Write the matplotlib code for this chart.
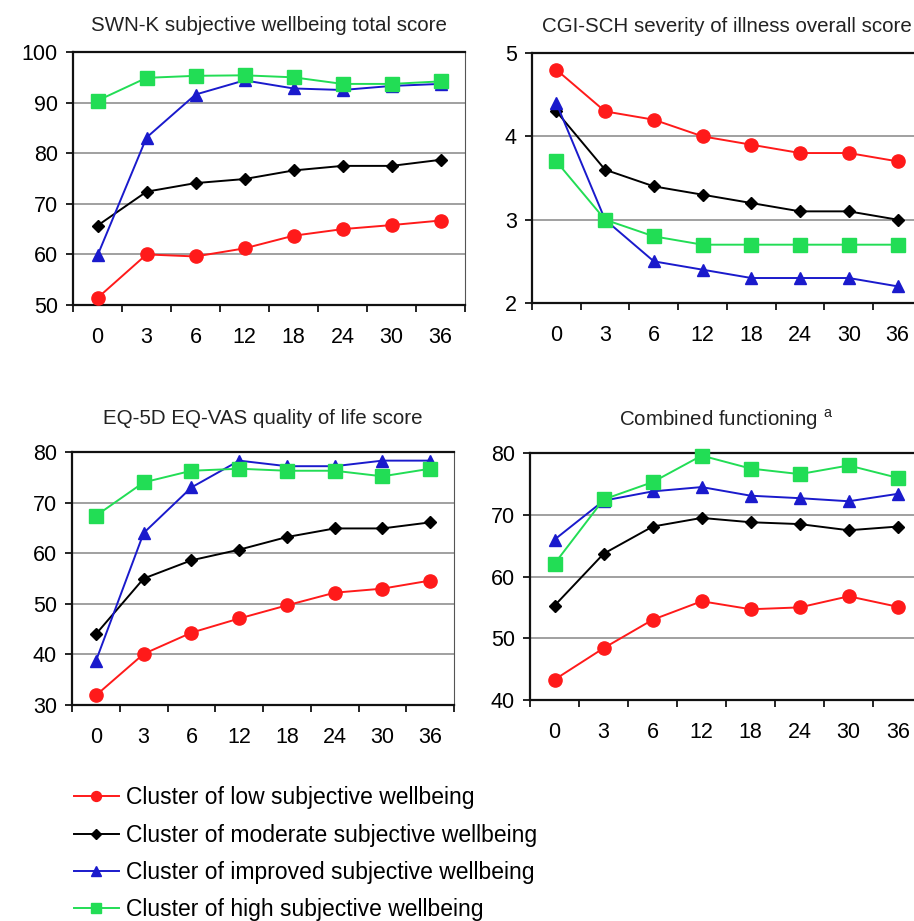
import numpy as np
import matplotlib
matplotlib.use("Agg")
from matplotlib import pyplot as plt

plt.rcParams['font.family'] = ['Liberation Sans', 'DejaVu Sans']
plt.rcParams['mathtext.fontset'] = 'custom'
plt.rcParams['mathtext.rm'] = 'Liberation Sans'

months = ['0', '3', '6', '12', '18', '24', '30', '36']

labels = ['Cluster of low subjective wellbeing',
          'Cluster of moderate subjective wellbeing',
          'Cluster of improved subjective wellbeing',
          'Cluster of high subjective wellbeing']

# SWN-K subjective wellbeing total score
swn_low = [51.4, 60.0, 59.6, 61.2, 63.7, 65.0, 65.8, 66.7]
swn_mod = [65.7, 72.4, 74.1, 74.9, 76.6, 77.5, 77.5, 78.7]
swn_imp = [59.8, 83.1, 91.6, 94.4, 92.8, 92.5, 93.3, 93.7]
swn_high = [90.4, 94.9, 95.3, 95.4, 95.0, 93.7, 93.7, 94.2]

# CGI-SCH severity of illness overall score
cgi_low = [4.8, 4.3, 4.2, 4.0, 3.9, 3.8, 3.8, 3.7]
cgi_mod = [4.3, 3.6, 3.4, 3.3, 3.2, 3.1, 3.1, 3.0]
cgi_imp = [4.4, 3.0, 2.5, 2.4, 2.3, 2.3, 2.3, 2.2]
cgi_high = [3.7, 3.0, 2.8, 2.7, 2.7, 2.7, 2.7, 2.7]

# EQ-5D EQ-VAS quality of life score
eq_low = [31.9, 40.1, 44.3, 47.1, 49.7, 52.2, 53.0, 54.6]
eq_mod = [44.0, 55.0, 58.6, 60.7, 63.2, 64.9, 64.9, 66.1]
eq_imp = [38.7, 64.0, 73.0, 78.3, 77.2, 77.2, 78.3, 78.3]
eq_high = [67.4, 74.0, 76.3, 76.7, 76.3, 76.3, 75.2, 76.7]

# Combined functioning
cf_low = [43.3, 48.4, 53.0, 56.0, 54.7, 55.0, 56.8, 55.1]
cf_mod = [55.3, 63.7, 68.1, 69.5, 68.8, 68.5, 67.5, 68.1]
cf_imp = [66.0, 72.3, 73.8, 74.5, 73.1, 72.7, 72.2, 73.4]
cf_high = [62.1, 72.5, 75.3, 79.6, 77.5, 76.6, 78.0, 76.0]

styles = [dict(color='#ff1a1a', marker='o', ms=9.5),
          dict(color='black', marker='D', ms=6.5),
          dict(color='#1a1acc', marker='^', ms=9),
          dict(color='#22dd55', marker='s', ms=9.5)]

panels = [
    ('SWN-K subjective wellbeing total score', [swn_low, swn_mod, swn_imp, swn_high],
     (50, 100, 10), [0.0799, 0.6688, 0.4289, 0.2747], 15),
    ('CGI-SCH severity of illness overall score', [cgi_low, cgi_mod, cgi_imp, cgi_high],
     (2, 5, 1), [0.582, 0.671, 0.4267, 0.2714], 15),
    ('EQ-5D EQ-VAS quality of life score', [eq_low, eq_mod, eq_imp, eq_high],
     (30, 80, 10), [0.0788, 0.2345, 0.418, 0.2747], 20),
    ('Combined functioning $^{\\mathrm{a}}$', [cf_low, cf_mod, cf_imp, cf_high],
     (40, 80, 10), [0.58, 0.240, 0.429, 0.268], 20),
]

fig = plt.figure(figsize=(9.14, 9.21), dpi=100)
x = np.arange(len(months))

for title, series, (lo, hi, step), pos, tpad in panels:
    ax = fig.add_axes(pos)
    for vals, st in zip(series, styles):
        ax.plot(x, vals, lw=1.4, color=st['color'], marker=st['marker'],
                ms=st['ms'], mec=st['color'], mfc=st['color'], clip_on=False, zorder=3)
    ax.set_xlim(-0.5, len(months) - 0.5)
    ax.set_ylim(lo, hi)
    ax.set_yticks(np.arange(lo, hi + step / 2, step))
    ax.set_xticks(x)
    ax.set_xticklabels(months)
    ax.set_xticks(np.arange(-0.5, len(months)), minor=True)
    ax.tick_params(axis='x', which='major', length=0, pad=16, labelsize=15.5)
    ax.tick_params(axis='x', which='minor', length=5, width=1.2, direction='out')
    ax.tick_params(axis='y', length=5, width=1.2, pad=6, labelsize=15.5)
    ax.yaxis.grid(True, color='#a0a0a0', lw=1.4)
    ax.set_axisbelow(True)
    for s in ['left', 'bottom', 'top']:
        ax.spines[s].set_linewidth(1.6)
        ax.spines[s].set_color('#111111')
    ax.spines['right'].set_color('#555555')
    ax.set_title(title, fontsize=14.8, pad=tpad, color='#222222')

handles = [plt.Line2D([], [], color=st['color'], marker=st['marker'],
                      ms=st['ms'] * 0.75, lw=1.4) for st in styles]
fig.legend(handles, labels, loc='upper left', bbox_to_anchor=(0.071, 0.156),
           frameon=False, fontsize=16.5, handlelength=1.95, handletextpad=0.3,
           labelspacing=0.62, borderaxespad=0)

fig.savefig('out.png', dpi=100)
